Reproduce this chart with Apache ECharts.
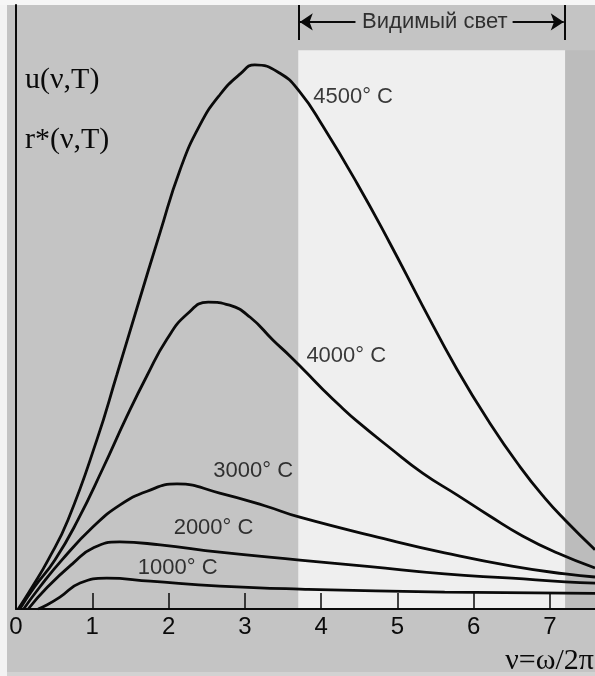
<!DOCTYPE html>
<html>
<head>
<meta charset="utf-8">
<script src="https://cdn.jsdelivr.net/npm/echarts@6.0.0/dist/echarts.min.js"></script>
<style>
html, body { margin: 0; padding: 0; background: #c4c4c4; }
#chart { width: 595px; height: 676px; }
</style>
</head>
<body>
<div id="chart"></div>
<script>
// ticks on the frequency axis
const xTicks = [0, 1, 2, 3, 4, 5, 6, 7];

// curves: [nu, u]
const curve4500 = [[0.03, 0], [0.21, 3.6], [0.42, 8.1], [0.68, 14.7], [1.06, 28.0], [1.32, 38.7], [1.59, 50.0],
  [1.89, 62.4], [2.15, 72.7], [2.41, 80.1], [2.67, 85.1], [2.94, 88.6], [3.13, 90.1], [3.46, 88.7],
  [3.72, 85.6], [4.02, 80.0], [4.47, 70.5], [4.90, 60.6], [5.33, 50.2], [5.78, 39.7], [6.21, 30.8], [6.61, 23.5],
  [6.93, 18.4], [7.20, 14.7], [7.59, 9.8]];
const curve4000 = [[0.05, 0], [0.24, 3.6], [0.51, 8.1], [0.81, 14.7], [1.14, 23.3], [1.45, 31.8], [1.72, 38.7],
  [1.98, 44.7], [2.24, 48.8], [2.52, 50.8], [2.80, 50.3], [3.07, 48.3], [3.37, 44.5], [3.59, 41.9], [3.81, 39.1],
  [4.02, 36.4], [4.25, 33.6], [4.47, 31.1], [4.90, 26.7], [5.33, 22.5], [5.78, 18.9], [6.21, 15.4], [6.64, 12.1],
  [7.09, 9.3], [7.59, 6.8]];
const curve3000 = [[0.10, 0], [0.31, 3.6], [0.60, 8.1], [1.01, 13.6], [1.36, 17.2], [1.72, 19.5], [2.11, 20.7],
  [2.67, 19.2], [3.26, 17.1], [3.72, 15.2], [4.90, 11.4], [5.62, 9.3], [6.50, 7.1], [7.20, 5.8], [7.59, 5.3]];
const curve2000 = [[0.16, 0], [0.41, 3.6], [0.75, 7.6], [1.01, 10.1], [1.36, 11.1], [1.89, 10.6],
  [2.67, 9.4], [3.72, 8.1], [4.64, 7.0], [5.62, 5.8], [6.50, 5.1], [7.20, 4.5], [7.59, 4.3]];
const curve1000 = [[0.29, 0], [0.41, 0.7], [0.58, 2.0], [0.84, 4.3], [1.19, 5.1], [1.76, 4.6], [2.67, 3.8],
  [3.72, 3.3], [5.62, 2.8], [7.59, 2.6]];

const curves = [curve4500, curve4000, curve3000, curve2000, curve1000];
const curveLabels = ['4500° C', '4000° C', '3000° C', '2000° C', '1000° C'];
const labelPos = [[3.89, 84.8], [3.80, 41.9], [2.58, 22.8], [2.06, 13.4], [1.59, 6.8]];

// visible light band
const visibleRange = [3.7, 7.2];
const visibleTitle = 'Видимый свет';

const ink = '#0a0a0a';
const xMax = 7.59;
const yMax = 100;

const chart = echarts.init(document.getElementById('chart'));

const lineSeries = curves.map((data, i) => ({
  name: curveLabels[i],
  type: 'line',
  data: data,
  smooth: 0.5,
  symbol: 'none',
  silent: true,
  z: 3,
  lineStyle: { color: ink, width: 2.8 },
}));

chart.setOption({
  animation: false,
  backgroundColor: '#c4c4c4',
  grid: { left: 16, right: 0, top: 5, bottom: 67, containLabel: false, outerBoundsMode: 'none' },
  xAxis: {
    type: 'value',
    min: 0,
    max: xMax,
    interval: 1,
    z: 5,
    axisLine: { show: true, onZero: false, lineStyle: { color: ink, width: 2 } },
    axisTick: { show: true, inside: true, length: 16, customValues: xTicks, lineStyle: { color: ink, width: 1.5 } },
    axisLabel: { customValues: xTicks, color: ink, fontSize: 24, fontFamily: 'Liberation Sans', margin: 6 },
    splitLine: { show: false },
  },
  yAxis: {
    type: 'value',
    min: 0,
    max: yMax,
    z: 5,
    axisLine: { show: true, onZero: false, lineStyle: { color: ink, width: 2 } },
    axisTick: { show: false },
    axisLabel: { show: false },
    splitLine: { show: false },
  },
  graphic: [
    { type: 'rect', left: 0, top: 0, shape: { width: 7, height: 676 }, style: { fill: '#f3f3f3' } },
    { type: 'rect', left: 0, top: 0, shape: { width: 595, height: 5 }, style: { fill: '#f6f6f6' } },
    { type: 'rect', left: 7, top: 672, shape: { width: 588, height: 4 }, style: { fill: '#d2d2d2' } },
    { type: 'text', left: 25, top: 65, style: { text: 'u(ν,T)', fill: ink, fontSize: 30, fontFamily: 'Liberation Serif' } },
    { type: 'text', left: 25, top: 125, style: { text: 'r*(ν,T)', fill: ink, fontSize: 30, fontFamily: 'Liberation Serif' } },
    { type: 'text', right: 1, top: 646, style: { text: 'ν=ω/2π', fill: ink, fontSize: 30, fontFamily: 'Liberation Serif' } },
  ],
  series: [
    {
      name: 'bands',
      type: 'line',
      data: [],
      silent: true,
      z: 1,
      markArea: {
        silent: true,
        data: [
          [{ coord: [visibleRange[0], 0], itemStyle: { color: '#efefef' } }, { coord: [visibleRange[1], 92.5] }],
          [{ coord: [visibleRange[1], 0], itemStyle: { color: '#bcbcbc' } }, { coord: [xMax, 92.5] }],
        ],
      },
      markLine: {
        silent: true,
        symbol: ['none', 'arrow'],
        symbolSize: 13,
        label: { show: false },
        lineStyle: { color: ink, width: 2, type: 'solid' },
        data: [
          [{ coord: [visibleRange[0], 100], symbol: 'none' }, { coord: [visibleRange[0], 94.2], symbol: 'none' }],
          [{ coord: [visibleRange[1], 100], symbol: 'none' }, { coord: [visibleRange[1], 94.2], symbol: 'none' }],
          [{ coord: [4.45, 97.2] }, { coord: [visibleRange[0] + 0.02, 97.2] }],
          [{ coord: [6.51, 97.2] }, { coord: [visibleRange[1] - 0.02, 97.2] }],
        ],
      },
    },
    ...lineSeries,
    {
      name: 'labels',
      type: 'scatter',
      silent: true,
      symbolSize: 1,
      z: 4,
      itemStyle: { color: 'transparent' },
      label: { show: true, position: 'right', distance: 0, color: ink, fontSize: 22, fontFamily: 'Liberation Sans' },
      data: [
        ...labelPos.map((p, i) => ({ value: p, label: { formatter: curveLabels[i] } })),
        { value: [5.49, 97.2], label: { formatter: visibleTitle, position: 'inside', fontSize: 22 } },
      ],
    },
  ],
});
</script>
</body>
</html>
